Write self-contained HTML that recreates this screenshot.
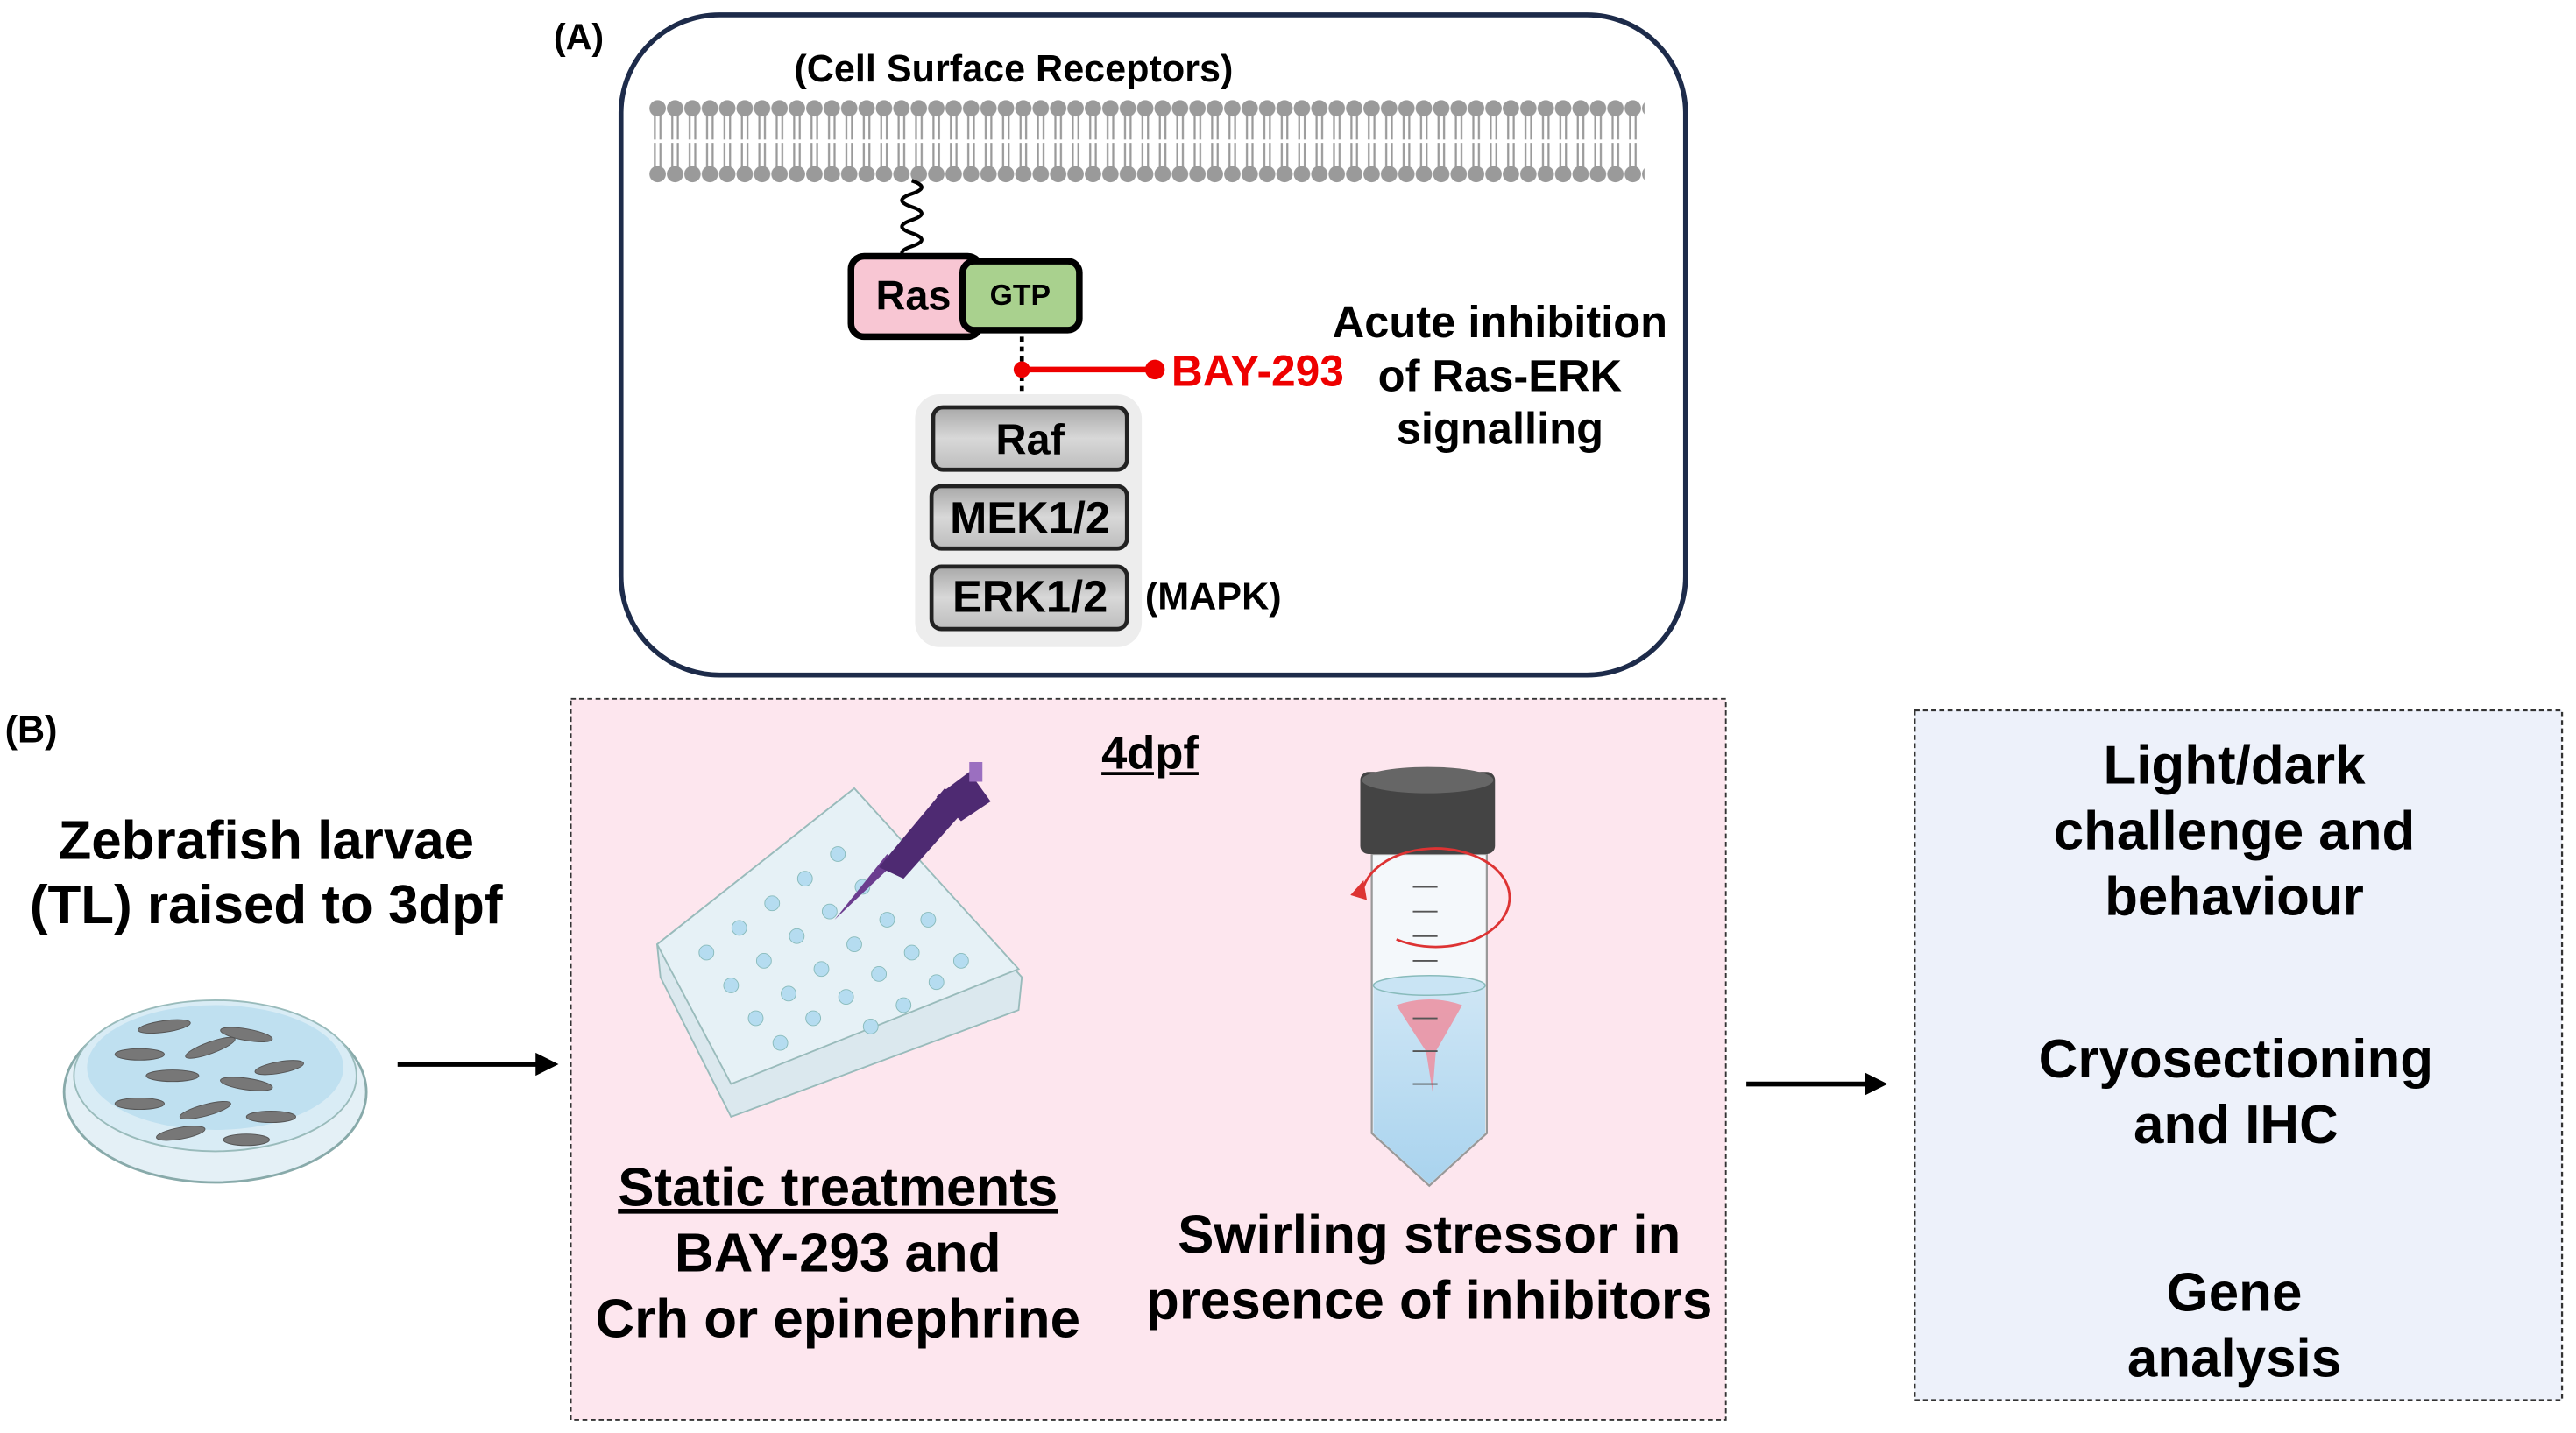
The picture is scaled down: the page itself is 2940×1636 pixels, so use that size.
<!DOCTYPE html>
<html><head><meta charset="utf-8"><style>
html,body{margin:0;padding:0;background:#fff;}
#wrap{width:2940px;height:1636px;overflow:hidden;position:relative;}
#c{position:absolute;left:0;top:0;width:1568px;height:873px;transform:scale(1.875);transform-origin:0 0;font-family:"Liberation Sans",sans-serif;font-weight:bold;color:#000;}
.t{position:absolute;white-space:nowrap;}
.ctr{transform:translate(-50%,-50%);text-align:center;}
</style></head><body><div id="wrap"><div id="c">
<svg width="1568" height="873" style="position:absolute;left:0;top:0">
<defs>
<pattern id="mem" x="395" y="60" width="10.6" height="52" patternUnits="userSpaceOnUse">
<circle cx="5.3" cy="6" r="5" fill="#9a9a9a"/>
<circle cx="5.3" cy="46" r="5" fill="#9a9a9a"/>
<path d="M3.6 10 V25 M7 10 V25 M3.6 27 V42 M7 27 V42" stroke="#9a9a9a" stroke-width="1.2"/>
</pattern>
<linearGradient id="gg" x1="0" y1="0" x2="0" y2="1"><stop offset="0" stop-color="#a8a8a8"/><stop offset="0.5" stop-color="#d8d8d8"/><stop offset="1" stop-color="#bdbdbd"/></linearGradient>
<linearGradient id="wat" x1="0" y1="0" x2="0" y2="1"><stop offset="0" stop-color="#cfe6f5"/><stop offset="1" stop-color="#a9d3ee"/></linearGradient>
</defs>
<rect x="378" y="9" width="648" height="402" rx="60" fill="#fff" stroke="#1d2b4a" stroke-width="3"/>
<rect x="395" y="60" width="606" height="52" fill="url(#mem)"/>
<path d="M555 110 q12 4 0 8 q-12 4 0 8 q12 4 0 8 q-12 4 0 8 q12 4 0 8 q-12 4 0 8" fill="none" stroke="#000" stroke-width="2.2"/>
<rect x="518" y="156" width="79" height="49" rx="8" fill="#f8c6d3" stroke="#000" stroke-width="4"/>
<rect x="586" y="159" width="71" height="42" rx="7" fill="#a9d18e" stroke="#000" stroke-width="4"/>
<line x1="622" y1="205" x2="622" y2="246" stroke="#000" stroke-width="2.5" stroke-dasharray="3,3"/>
<line x1="622" y1="225" x2="703" y2="225" stroke="#e00" stroke-width="3.5"/>
<circle cx="622" cy="225" r="5" fill="#e00"/><circle cx="703" cy="225" r="6" fill="#e00"/>
<rect x="557" y="240" width="138" height="154" rx="15" fill="#ededed"/>
<rect x="568" y="248" width="118" height="38" rx="6" fill="url(#gg)" stroke="#222" stroke-width="2.5"/>
<rect x="567" y="296" width="119" height="38" rx="6" fill="url(#gg)" stroke="#222" stroke-width="2.5"/>
<rect x="567" y="345" width="119" height="38" rx="6" fill="url(#gg)" stroke="#222" stroke-width="2.5"/>
<rect x="347.5" y="425.5" width="703" height="439" fill="#fde6ee" stroke="#333" stroke-width="1" stroke-dasharray="3,2"/>
<rect x="1165.5" y="432.5" width="394" height="420" fill="#edf1fa" stroke="#333" stroke-width="1.2" stroke-dasharray="3,2"/>
<line x1="242" y1="648" x2="328" y2="648" stroke="#000" stroke-width="3"/><path d="M340 648 L326 641 L326 655 Z"/>
<line x1="1063" y1="660" x2="1136" y2="660" stroke="#000" stroke-width="3"/><path d="M1149 660 L1135 653 L1135 667 Z"/>
<ellipse cx="131" cy="665" rx="92" ry="55" fill="#e4f0f6" stroke="#8aa" stroke-width="1.5"/>
<ellipse cx="131" cy="655" rx="86" ry="46" fill="#d9ecf5" stroke="#9bb" stroke-width="1"/>
<ellipse cx="131" cy="650" rx="78" ry="38" fill="#bfe0f0"/>
<g fill="#777" stroke="#555" stroke-width="0.5">
<ellipse cx="100" cy="625" rx="16" ry="3.5" transform="rotate(-8 100 625)"/><ellipse cx="150" cy="630" rx="16" ry="3.5" transform="rotate(10 150 630)"/>
<ellipse cx="85" cy="642" rx="15" ry="3.5"/><ellipse cx="128" cy="638" rx="16" ry="3.5" transform="rotate(-20 128 638)"/>
<ellipse cx="170" cy="650" rx="15" ry="3.5" transform="rotate(-10 170 650)"/><ellipse cx="105" cy="655" rx="16" ry="3.5"/>
<ellipse cx="150" cy="660" rx="16" ry="3.5" transform="rotate(8 150 660)"/><ellipse cx="85" cy="672" rx="15" ry="3.5"/>
<ellipse cx="125" cy="676" rx="16" ry="3.5" transform="rotate(-15 125 676)"/><ellipse cx="165" cy="680" rx="15" ry="3.5"/>
<ellipse cx="110" cy="690" rx="15" ry="3.5" transform="rotate(-10 110 690)"/><ellipse cx="150" cy="694" rx="14" ry="3.5"/>
</g>
<path d="M400 575 L520 480 L622 595 L620 615 L445 680 L402 595 Z" fill="#dbe8ee" stroke="#9bb" stroke-width="1"/>
<path d="M400 575 L520 480 L620 590 L445 660 Z" fill="#e6f1f6" stroke="#9bb" stroke-width="1"/>
<g fill="#b5dcf0" stroke="#8bb" stroke-width="0.5">
<circle cx="430" cy="580" r="4.5"/><circle cx="450" cy="565" r="4.5"/><circle cx="470" cy="550" r="4.5"/><circle cx="490" cy="535" r="4.5"/><circle cx="510" cy="520" r="4.5"/>
<circle cx="445" cy="600" r="4.5"/><circle cx="465" cy="585" r="4.5"/><circle cx="485" cy="570" r="4.5"/><circle cx="505" cy="555" r="4.5"/><circle cx="525" cy="540" r="4.5"/>
<circle cx="460" cy="620" r="4.5"/><circle cx="480" cy="605" r="4.5"/><circle cx="500" cy="590" r="4.5"/><circle cx="520" cy="575" r="4.5"/><circle cx="540" cy="560" r="4.5"/>
<circle cx="475" cy="635" r="4.5"/><circle cx="495" cy="620" r="4.5"/><circle cx="515" cy="607" r="4.5"/><circle cx="535" cy="593" r="4.5"/><circle cx="555" cy="580" r="4.5"/>
<circle cx="530" cy="625" r="4.5"/><circle cx="550" cy="612" r="4.5"/><circle cx="570" cy="598" r="4.5"/><circle cx="585" cy="585" r="4.5"/><circle cx="565" cy="560" r="4.5"/><circle cx="545" cy="525" r="4.5"/>
</g>
<path d="M508 560 L540 520 L545 525 Z" fill="#6b3d8f"/>
<path d="M535 528 L575 480 L590 490 L550 535 Z" fill="#4e2a72"/>
<path d="M570 485 L590 470 L603 488 L585 500 Z" fill="#4e2a72"/>
<rect x="590" y="464" width="8" height="12" fill="#9b6fc0"/>
<path d="M835 520 L835 690 L870 722 L905 690 L905 520 Z" fill="#f4f8fb" stroke="#999" stroke-width="1.2"/>
<path d="M836 600 L836 690 L870 721 L904 690 L904 600 Z" fill="url(#wat)"/>
<ellipse cx="870" cy="600" rx="34" ry="6" fill="#c9e4f4" stroke="#8bb" stroke-width="0.8"/>
<path d="M850 612 Q870 605 890 612 Q880 630 874 640 L872 665 L868 640 Q860 628 850 612 Z" fill="#f0899a" opacity="0.8"/>
<rect x="828" y="470" width="82" height="50" rx="5" fill="#444"/>
<ellipse cx="869" cy="475" rx="40" ry="8" fill="#666"/>
<g stroke="#555" stroke-width="1"><line x1="860" y1="540" x2="875" y2="540"/><line x1="860" y1="555" x2="875" y2="555"/><line x1="860" y1="570" x2="875" y2="570"/><line x1="860" y1="585" x2="875" y2="585"/><line x1="860" y1="620" x2="875" y2="620"/><line x1="860" y1="640" x2="875" y2="640"/><line x1="860" y1="660" x2="875" y2="660"/></g>
<path d="M830 540 A45 30 0 1 1 850 572" fill="none" stroke="#d33" stroke-width="1.5"/>
<path d="M822 545 L830 536 L832 548 Z" fill="#d33"/>
</svg>
<div class="t" style="left:337px;top:10px;font-size:22px">(A)</div>
<div class="t ctr" style="left:617px;top:42px;font-size:23px">(Cell Surface Receptors)</div>
<div class="t ctr" style="left:556px;top:181px;font-size:25px">Ras</div>
<div class="t ctr" style="left:621px;top:180px;font-size:18px">GTP</div>
<div class="t" style="left:713px;top:211px;font-size:26.5px;color:#e00">BAY-293</div>
<div class="t ctr" style="left:913px;top:229px;font-size:27px;line-height:32.5px">Acute inhibition<br>of Ras-ERK<br>signalling</div>
<div class="t ctr" style="left:627px;top:268px;font-size:26px">Raf</div>
<div class="t ctr" style="left:627px;top:316px;font-size:27px">MEK1/2</div>
<div class="t ctr" style="left:627px;top:364px;font-size:27px">ERK1/2</div>
<div class="t" style="left:697px;top:350px;font-size:23px">(MAPK)</div>
<div class="t" style="left:3px;top:431px;font-size:23px">(B)</div>
<div class="t ctr" style="left:162px;top:531px;font-size:33px;line-height:39px">Zebrafish larvae<br>(TL) raised to 3dpf</div>
<div class="t ctr" style="left:700px;top:459px;font-size:28px;text-decoration:underline">4dpf</div>
<div class="t ctr" style="left:510px;top:763px;font-size:33px;line-height:40px"><u>Static treatments</u><br>BAY-293 and<br>Crh or epinephrine</div>
<div class="t ctr" style="left:870px;top:772px;font-size:33px;line-height:40px">Swirling stressor in<br>presence of inhibitors</div>
<div class="t ctr" style="left:1360px;top:506px;font-size:33px;line-height:40px">Light/dark<br>challenge and<br>behaviour</div>
<div class="t ctr" style="left:1361px;top:665px;font-size:33px;line-height:40px">Cryosectioning<br>and IHC</div>
<div class="t ctr" style="left:1360px;top:807px;font-size:33px;line-height:40px">Gene<br>analysis</div>
</div></div></body></html>
